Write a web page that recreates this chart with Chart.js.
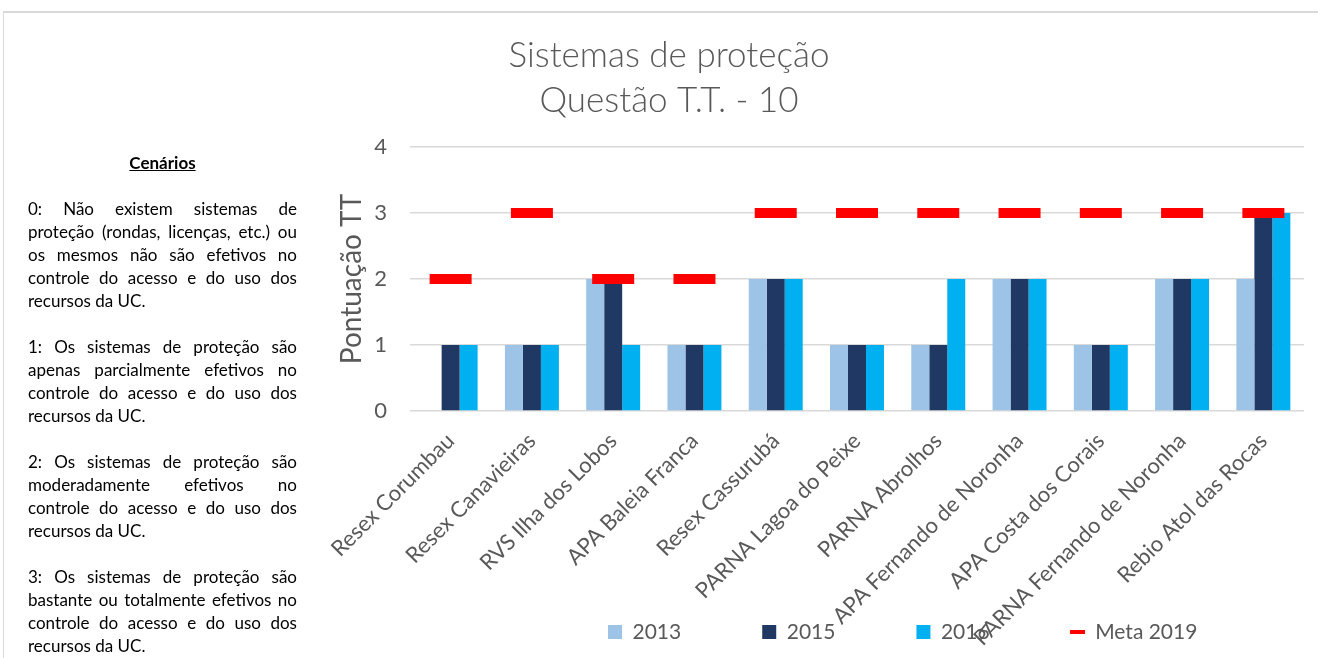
<!DOCTYPE html>
<html lang="pt">
<head>
<meta charset="utf-8">
<title>Sistemas de proteção</title>
<script src="https://cdn.jsdelivr.net/npm/chart.js@4"></script>
<style>
    html, body { margin: 0; padding: 0; background: #fff; overflow: hidden; }
    body { width: 1318px; height: 658px; position: relative; font-family: Lato, sans-serif; }
    .frame { position: absolute; left: 3px; top: 11px; width: 1315px; height: 647px; border-top: 2px solid #dadada; border-left: 1px solid #dadada; box-sizing: border-box; }
    #wrap { position: absolute; left: 0; top: 0; width: 1318px; height: 658px; }
    .cenarios { position: absolute; left: 28px; top: 151px; width: 269px; font-size: 17px; line-height: 23px; color: #000; }
    .cenarios .head { text-align: center; font-weight: bold; text-decoration: underline; margin-bottom: 23px; }
    .cenarios .par { margin-bottom: 23px; }
    .cenarios .ln { text-align: justify; text-align-last: justify; white-space: nowrap; }
    .cenarios .ln.last { text-align-last: left; }
</style>
</head>
<body>
<div class="frame"></div>
<div id="wrap"><canvas id="chart" width="1318" height="658"></canvas></div>
<div class="cenarios">
    <div class="head">Cenários</div>
    <div class="par">
        <div class="ln">0: Não existem sistemas de</div>
        <div class="ln">proteção (rondas, licenças, etc.) ou</div>
        <div class="ln">os mesmos não são efetivos no</div>
        <div class="ln">controle do acesso e do uso dos</div>
        <div class="ln last">recursos da UC.</div>
    </div>
    <div class="par">
        <div class="ln">1: Os sistemas de proteção são</div>
        <div class="ln">apenas parcialmente efetivos no</div>
        <div class="ln">controle do acesso e do uso dos</div>
        <div class="ln last">recursos da UC.</div>
    </div>
    <div class="par">
        <div class="ln">2: Os sistemas de proteção são</div>
        <div class="ln">moderadamente efetivos no</div>
        <div class="ln">controle do acesso e do uso dos</div>
        <div class="ln last">recursos da UC.</div>
    </div>
    <div class="par">
        <div class="ln">3: Os sistemas de proteção são</div>
        <div class="ln">bastante ou totalmente efetivos no</div>
        <div class="ln">controle do acesso e do uso dos</div>
        <div class="ln last">recursos da UC.</div>
    </div>
</div>
<script>
// dados do grafico
const categories = [
    'Resex Corumbau', 'Resex Canavieiras', 'RVS Ilha dos Lobos', 'APA Baleia Franca',
    'Resex Cassurubá', 'PARNA Lagoa do Peixe', 'PARNA Abrolhos', 'APA Fernando de Noronha',
    'APA Costa dos Corais', 'PARNA Fernando de Noronha', 'Rebio Atol das Rocas'
];
const values2013 = [0, 1, 2, 1, 2, 1, 1, 2, 1, 2, 2];
const values2015 = [1, 1, 2, 1, 2, 1, 1, 2, 1, 2, 3];
const values2016 = [1, 1, 1, 1, 2, 1, 2, 2, 1, 2, 3];
const meta2019 = [2, 3, 2, 2, 3, 3, 3, 3, 3, 3, 3];
const yTicks = [0, 1, 2, 3, 4];

const gray = '#595959';
const legendPad = 81;
const legendFont = 21;

// petit trait rouge pour la legende de la meta
const metaIcon = document.createElement('canvas');
metaIcon.width = 15;
metaIcon.height = 4;
const ic = metaIcon.getContext('2d');
ic.fillStyle = '#ff0000';
ic.fillRect(0, 0, 15, 4);

// place la legende comme dans Excel
const legendSpot = {
    id: 'legendSpot',
    beforeDraw(chart) {
        const lg = chart.legend;
        lg.left = 608 - legendPad;
        lg.top = 632 - legendPad - legendFont / 2;
    }
};

const ctx = document.getElementById('chart').getContext('2d');
const chart = new Chart(ctx, {
    type: 'bar',
    data: {
        labels: categories,
        datasets: [
            { label: '2013', data: values2013, backgroundColor: '#9dc3e6', order: 1 },
            { label: '2015', data: values2015, backgroundColor: '#203864', order: 1 },
            { label: '2016', data: values2016, backgroundColor: '#00b0f0', order: 1 },
            {
                type: 'line',
                label: 'Meta 2019',
                data: meta2019,
                showLine: false,
                pointStyle: 'line',
                pointRadius: 21,
                pointHoverRadius: 21,
                pointBorderWidth: 10,
                pointBorderColor: '#ff0000',
                backgroundColor: '#ff0000',
                borderColor: '#ff0000',
                order: 0
            }
        ]
    },
    options: {
        responsive: false,
        animation: false,
        layout: { autoPadding: false, padding: { left: 20, right: 0, top: 0, bottom: 0 } },
        datasets: {
            bar: { barPercentage: 1, categoryPercentage: 0.664, borderWidth: 0 }
        },
        plugins: {
            tooltip: { enabled: false },
            title: {
                display: true,
                text: ['Sistemas de proteção', 'Questão T.T. - 10'],
                color: gray,
                font: { family: 'Lato', size: 35, weight: '300', lineHeight: '45px' },
                padding: { top: 33, bottom: 24 }
            },
            legend: {
                position: 'bottom',
                align: 'start',
                fullSize: false,
                maxHeight: 1,
                labels: {
                    usePointStyle: true,
                    pointStyleWidth: 14,
                    boxHeight: 14,
                    padding: legendPad,
                    color: gray,
                    font: { family: 'Lato', size: legendFont },
                    sort: (a, b) => a.datasetIndex - b.datasetIndex,
                    generateLabels: function(chart) {
                        const items = Chart.defaults.plugins.legend.labels.generateLabels(chart);
                        items.forEach(item => {
                            if (item.datasetIndex === 3) {
                                item.pointStyle = metaIcon;
                                item.rotation = 0;
                            } else {
                                item.pointStyle = 'rect';
                                item.lineWidth = 0;
                            }
                        });
                        return items;
                    }
                }
            }
        },
        scales: {
            x: {
                grid: { display: false },
                border: { display: false },
                ticks: {
                    autoSkip: false,
                    minRotation: 45,
                    maxRotation: 45,
                    padding: 9,
                    color: gray,
                    font: { family: 'Lato', size: 22 }
                },
                afterFit: function(scale) {
                    scale.height = 246;
                    scale.paddingLeft = 0;
                    scale.paddingRight = 14;
                }
            },
            y: {
                min: 0,
                max: 4,
                afterBuildTicks: function(scale) { scale.ticks = yTicks.map(v => ({ value: v })); },
                grid: { color: '#d9d9d9', lineWidth: 1.5, drawTicks: false },
                border: { display: false },
                ticks: { padding: 23, color: gray, font: { family: 'Lato', size: 22 } },
                title: {
                    display: true,
                    text: 'Pontuação TT',
                    color: gray,
                    font: { family: 'Lato', size: 28 },
                    padding: { top: 315, bottom: 0 }
                },
                afterFit: function(scale) { scale.width = 390; }
            }
        }
    },
    plugins: [legendSpot]
});
</script>
</body>
</html>
